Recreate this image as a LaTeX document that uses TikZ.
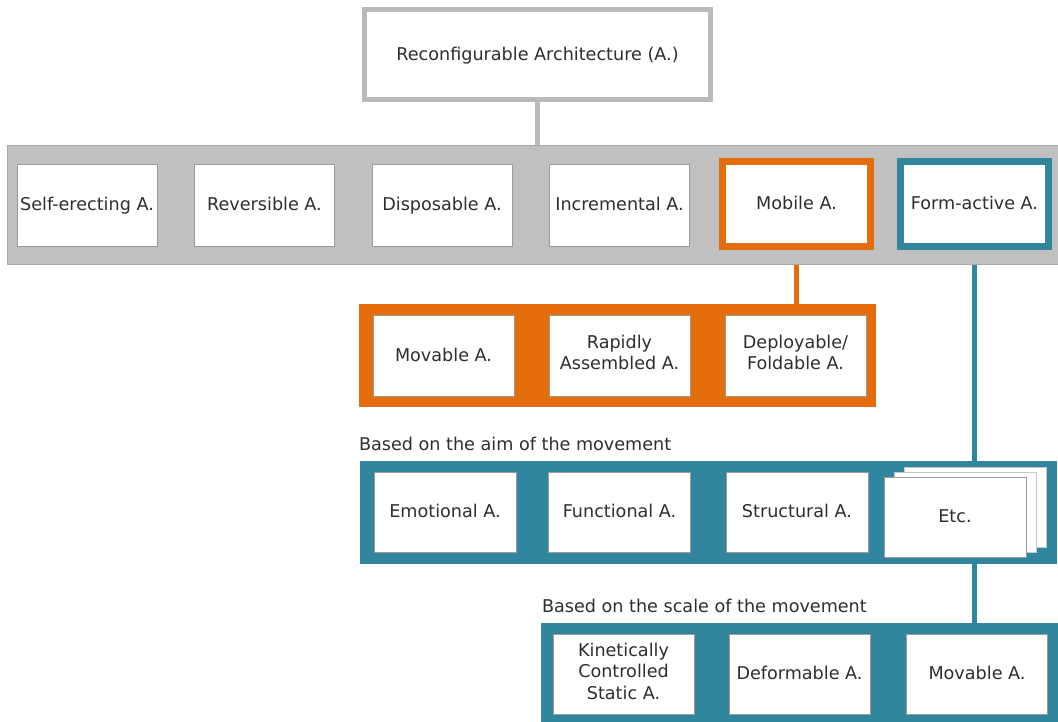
\documentclass[tikz,border=0pt]{standalone}
\usepackage{fontspec}
\setmainfont{DejaVu Sans}
\definecolor{bandgray}{HTML}{C0C0C0}
\definecolor{bandedge}{HTML}{A8A8A8}
\definecolor{topgray}{HTML}{BABABA}
\definecolor{orng}{HTML}{E46C0A}
\definecolor{tealc}{HTML}{31859C}
\definecolor{txt}{HTML}{2E2E2E}
\definecolor{boxedge}{HTML}{9A9A9A}
\definecolor{cardedge}{HTML}{C8C8C8}
\newcommand\mystrut{\rule[-6pt]{0pt}{23pt}}
\pgfdeclarelayer{bg}
\pgfsetlayers{bg,main}
\begin{document}
\begin{tikzpicture}[x=1pt,y=-1pt,
  every node/.style={font=\fontsize{17.6}{21.5}\selectfont, text=txt, inner sep=0pt, outer sep=0pt, align=center,
    execute at begin node=\mystrut, execute at end node=\mystrut},
  band/.style={rectangle, draw=#1, line width=0.8pt, fill=#1},
  wbox/.style={rectangle, draw=boxedge, line width=0.8pt, fill=white},
  card/.style={rectangle, draw=cardedge, line width=0.8pt, fill=white, minimum width=142pt, minimum height=80pt},
  hbox/.style={rectangle, draw=#1, line width=7pt, fill=white, minimum width=148pt, minimum height=85pt},
  conn/.style={draw=#1, line width=5pt}
]
\useasboundingbox (0,0) rectangle (1058,721);

% top
\node[rectangle, draw=topgray, line width=5pt, fill=white, minimum width=346pt, minimum height=90pt] (top) at (537.5,54.5) {Reconfigurable Architecture (A.)};

% gray band
\node[band=bandgray, draw=bandedge, minimum width=1053pt, minimum height=119pt] (b0) at (533.5,204.5) {};
\node[wbox, minimum width=140pt, minimum height=82pt] (se) at (87,205) {Self-erecting A.};
\node[wbox, minimum width=140pt, minimum height=82pt] (rev) at (264.5,205) {Reversible A.};
\node[wbox, minimum width=140pt, minimum height=82pt] (dis) at (442,205) {Disposable A.};
\node[wbox, minimum width=140pt, minimum height=82pt] (inc) at (619.5,205) {Incremental A.};
\node[hbox=orng] (mob) at (796.5,204) {Mobile A.};
\node[hbox=tealc] (fa) at (974.5,204) {Form-active A.};

% orange band
\node[band=orng, minimum width=516pt, minimum height=102pt] (b1) at (617,355) {};
\node[wbox, minimum width=141pt, minimum height=81pt] (mov) at (443.5,355.5) {Movable A.};
\node[wbox, minimum width=141pt, minimum height=81pt] (rap) at (619.5,355.5) {Rapidly\\Assembled A.};
\node[wbox, minimum width=141pt, minimum height=81pt] (dep) at (795.5,355.5) {Deployable/\\Foldable A.};

% aim band
\node[anchor=west] (l1) at (359,445) {Based on the aim of the movement};
\node[band=tealc, minimum width=696pt, minimum height=102pt] (b2) at (708,512) {};
\node[wbox, minimum width=142pt, minimum height=80pt] (emo) at (445,512) {Emotional A.};
\node[wbox, minimum width=142pt, minimum height=80pt] (fun) at (619.5,512) {Functional A.};
\node[wbox, minimum width=142pt, minimum height=80pt] (str) at (797,512) {Structural A.};
\node[card] (etc3) at (975,507) {};
\node[card] (etc2) at (965,512) {};
\node[card, draw=boxedge] (etc) at (955,517) {Etc.};

% scale band
\node[anchor=west] (l2) at (542,607) {Based on the scale of the movement};
\node[band=tealc, minimum width=521pt, minimum height=102pt] (b3) at (801.5,674) {};
\node[wbox, minimum width=141pt, minimum height=80pt] (kin) at (623.5,674) {Kinetically\\Controlled\\Static A.};
\node[wbox, minimum width=141pt, minimum height=80pt] (def) at (799.5,674) {Deformable A.};
\node[wbox, minimum width=141pt, minimum height=80pt] (mv2) at (977,674) {Movable A.};

% connectors
\begin{pgfonlayer}{bg}
\draw[conn=topgray] (top.south) -- (top.south |- b0.north);
\draw[conn=orng] (mob.south) -- (mob.south |- b1.north);
\draw[conn=tealc] (fa.south) -- (fa.south |- b2.north);
\draw[conn=tealc] (fa.south |- b2.south) -- (fa.south |- b3.north);
\end{pgfonlayer}
\end{tikzpicture}
\end{document}
